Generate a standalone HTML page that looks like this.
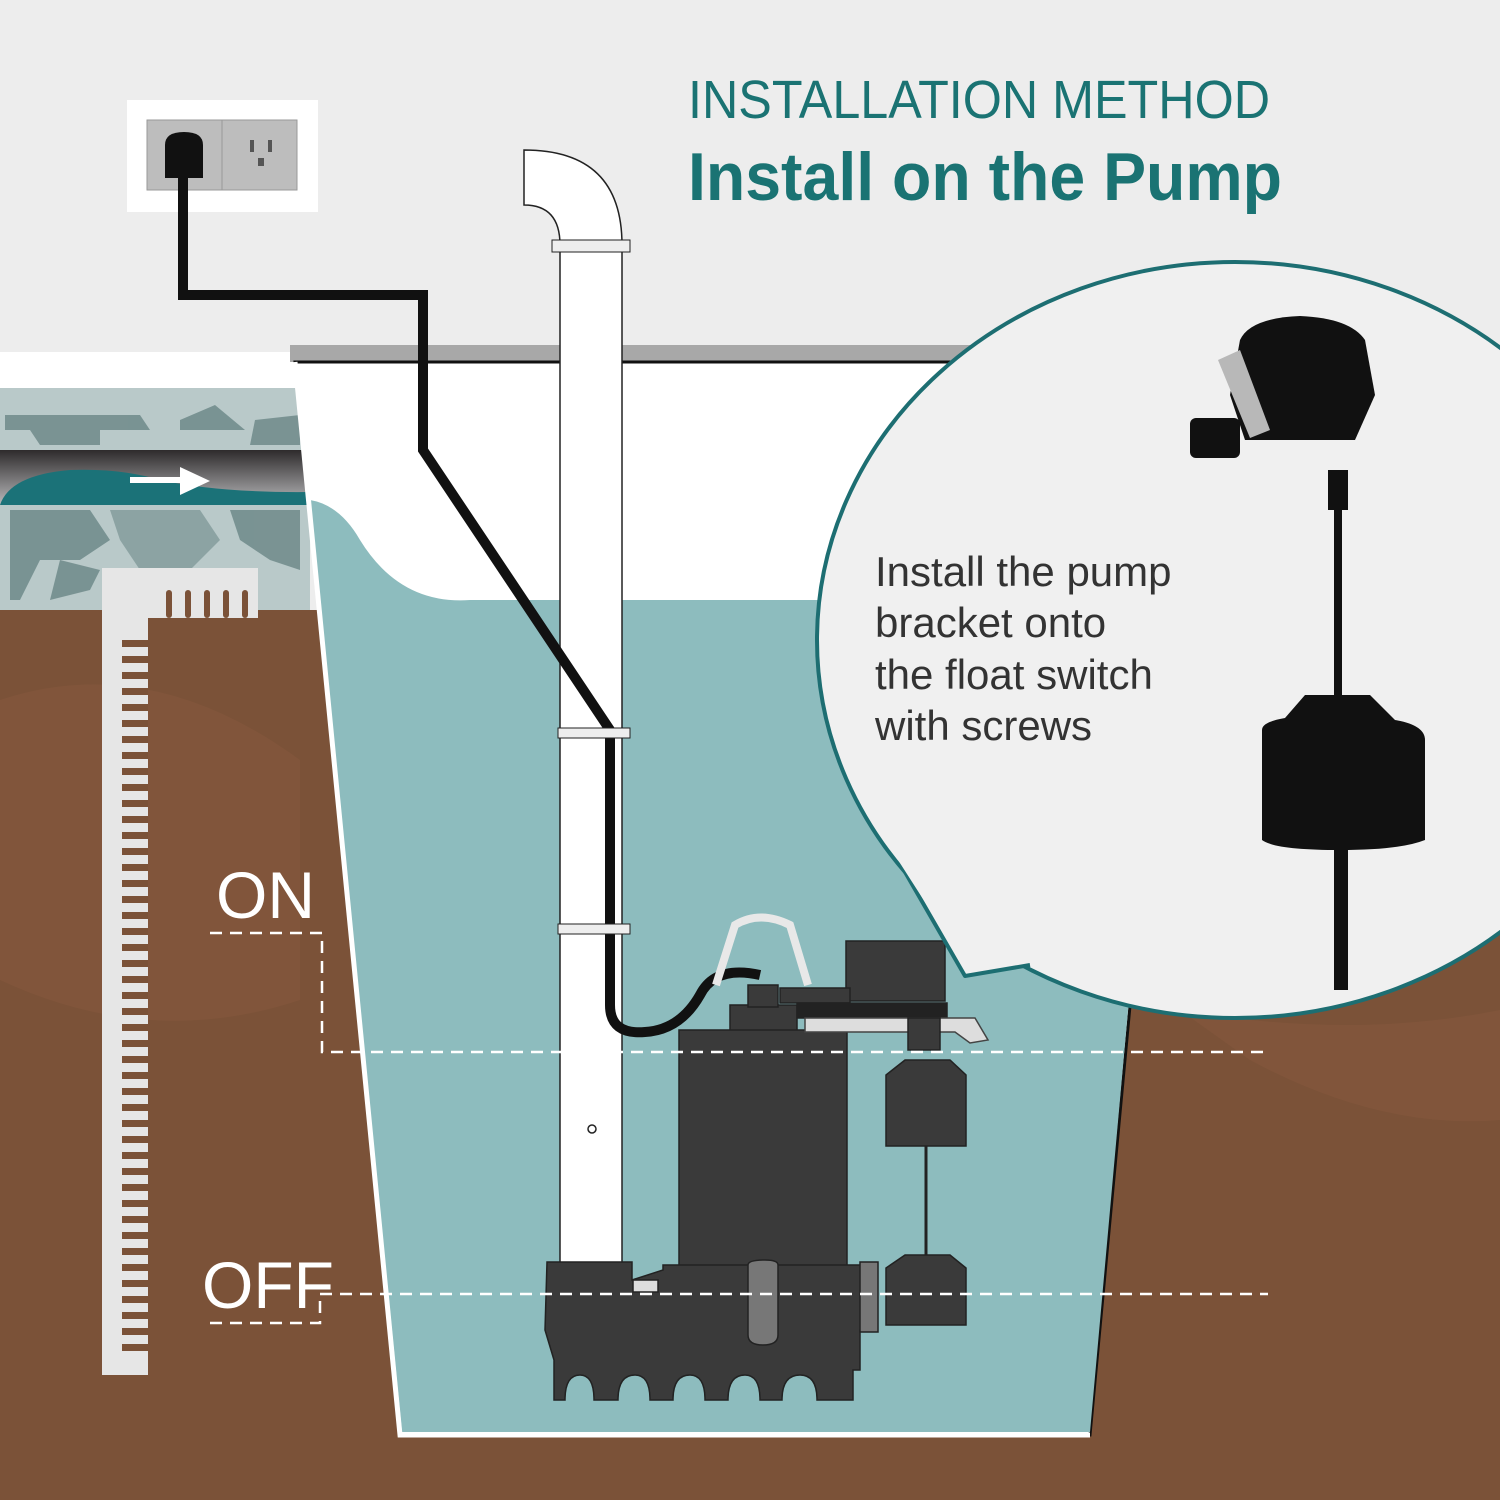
<!DOCTYPE html>
<html><head><meta charset="utf-8"><style>
html,body{margin:0;padding:0;background:#ededed}
svg{display:block}
text{font-family:"Liberation Sans",sans-serif}
</style></head><body>
<svg width="1500" height="1500" viewBox="0 0 1500 1500" xmlns="http://www.w3.org/2000/svg">
<defs>
<linearGradient id="pg" x1="0" y1="0" x2="0" y2="1">
<stop offset="0" stop-color="#2e2b2c"/><stop offset="1" stop-color="#b9b9bb"/>
</linearGradient>
</defs>
<rect width="1500" height="1500" fill="#ededed"/>
<rect x="0" y="610" width="1500" height="890" fill="#7b5238"/>
<path d="M0,700 Q150,650 300,760 L300,1000 Q150,1050 0,980Z" fill="#85593d" opacity="0.6"/>
<path d="M1180,1010 Q1350,1040 1500,1010 L1500,1120 Q1380,1130 1250,1060Z" fill="#85593d" opacity="0.6"/>
<rect x="0" y="352" width="300" height="36" fill="#ffffff"/>
<rect x="0" y="388" width="310" height="222" fill="#b9c9c9"/>
<g fill="#6f8a8a" opacity="0.85">
<path d="M5,415 H140 L150,430 H100 V445 H40 L30,430 H5Z"/>
<path d="M180,420 L215,405 L245,430 H180Z"/>
<path d="M255,420 L300,415 V445 H250Z"/>
<path d="M10,510 H90 L110,540 L80,560 H40 L20,600 H10Z"/>
<path d="M110,510 H200 L220,540 L190,570 H140 L120,540Z" opacity="0.7"/>
<path d="M230,510 H300 V570 L270,560 L240,540Z"/>
<path d="M60,560 L100,570 L90,590 L50,600Z"/>
</g>
<rect x="0" y="450" width="310" height="55" fill="url(#pg)"/>
<path d="M0,505 Q10,475 70,470 Q120,468 160,480 Q220,493 310,492 V505Z" fill="#1b7278"/>
<path d="M130,480 H185" stroke="#fff" stroke-width="6"/>
<path d="M180,467 L210,481 L180,495Z" fill="#fff"/>
<rect x="102" y="568" width="46" height="807" fill="#e6e6e6"/>
<rect x="148" y="568" width="110" height="50" fill="#e6e6e6"/>
<g fill="#7b5238">
<rect x="166" y="590" width="6" height="28" rx="3"/><rect x="185" y="590" width="6" height="28" rx="3"/><rect x="204" y="590" width="6" height="28" rx="3"/><rect x="223" y="590" width="6" height="28" rx="3"/><rect x="242" y="590" width="6" height="28" rx="3"/>
</g>
<rect x="290" y="345" width="720" height="17" fill="#a8a8a8"/>
<path d="M295,362 L1190,362 L1090,1435 L400,1435Z" fill="#ffffff" stroke="#111" stroke-width="3"/>
<path d="M310,500 Q340,505 360,540 Q400,605 470,600 L1165,600 L1090,1432 L402,1432Z" fill="#8dbcbe"/>
<path d="M295,362 L400,1435 L1090,1435" stroke="#fff" stroke-width="5" fill="none"/>
<rect x="127" y="100" width="191" height="112" fill="#fff"/>
<rect x="147" y="120" width="150" height="70" fill="#bdbdbd" stroke="#999"/>
<line x1="222" y1="120" x2="222" y2="190" stroke="#999"/>
<rect x="250" y="140" width="4" height="12" fill="#555"/><rect x="268" y="140" width="4" height="12" fill="#555"/><rect x="258" y="158" width="6" height="8" fill="#555"/>
<path d="M165,145 Q165,132 184,132 Q203,132 203,145 V178 H165Z" fill="#111"/>
<!-- pipe -->
<path d="M524,150 Q622,150 622,245 L560,245 Q560,205 524,205Z" fill="#fff" stroke="#222" stroke-width="1.5"/>
<rect x="560" y="245" width="62" height="1018" fill="#fff" stroke="#222" stroke-width="1.5"/>
<rect x="552" y="240" width="78" height="12" fill="#eee" stroke="#222"/>
<circle cx="592" cy="1129" r="4" fill="none" stroke="#222" stroke-width="1.5"/>
<!-- cord -->
<path d="M183,160 V295 H423 V450 L610,730 V1005 Q610,1035 645,1032 Q680,1030 700,995 Q715,965 760,975" fill="none" stroke="#111" stroke-width="10"/>
<rect x="558" y="728" width="72" height="10" fill="#eee" stroke="#222"/>
<rect x="558" y="924" width="72" height="10" fill="#eee" stroke="#222"/>
<!-- pump -->
<g fill="#3a3a3a" stroke="#222" stroke-width="1.5">
<path d="M716,985 L735,925 Q760,910 790,925 L808,985" fill="none" stroke="#e8e8e8" stroke-width="8"/>
<rect x="730" y="1005" width="67" height="27"/>
<rect x="748" y="985" width="30" height="22"/>
<rect x="679" y="1030" width="168" height="236"/>
<rect x="846" y="941" width="99" height="60"/>
<rect x="780" y="988" width="70" height="15"/>
<rect x="797" y="1003" width="150" height="15" fill="#222"/>
<path d="M805,1018 H975 L988,1040 L970,1043 L955,1032 H805Z" fill="#ddd" stroke="#444"/>
<rect x="908" y="1018" width="32" height="32"/>
<path d="M886,1075 L905,1060 H950 L966,1075 V1146 H886Z"/>
<line x1="926" y1="1146" x2="926" y2="1255" stroke="#222" stroke-width="3"/>
<path d="M886,1268 L905,1255 H950 L966,1268 V1325 H886Z"/>
<path d="M547,1262 H632 V1280 L663,1270 V1265 H875 V1330 L860,1330 V1370 H853 V1400 H817 Q817,1375 800,1375 Q782,1375 782,1400 H760 Q760,1375 745,1375 Q728,1375 728,1400 H705 Q705,1375 690,1375 Q673,1375 673,1400 H650 Q650,1375 635,1375 Q618,1375 618,1400 H594 Q594,1375 580,1375 Q565,1375 565,1400 H554 V1360 L545,1330Z"/>
<path d="M748,1265 Q748,1260 765,1260 Q778,1260 778,1265 V1335 Q778,1345 763,1345 Q748,1345 748,1335Z" fill="#777"/>
<rect x="860" y="1262" width="18" height="70" fill="#777"/>
<rect x="633" y="1280" width="25" height="12" fill="#ddd"/>
</g>
<g stroke="#fff" stroke-width="2.5" stroke-dasharray="12,8" fill="none">
<path d="M210,933 H322 V1052 H1268"/>
<path d="M320,1294 H1268"/>
<path d="M210,1323 H320 V1294"/>
</g>
<text x="216" y="918" font-size="66" fill="#fff">ON</text>
<text x="202" y="1308" font-size="66" fill="#fff">OFF</text>
<!-- bubble -->
<ellipse cx="1235" cy="640" rx="418" ry="378" fill="#f0f0f0" stroke="#1d6e72" stroke-width="4"/>
<path d="M905,872 L965,976 L1030,965" fill="#f0f0f0" stroke="#1d6e72" stroke-width="4" stroke-linejoin="round"/>
<path d="M898,860 L966,966 L1040,958 L1040,930 Z" fill="#f0f0f0"/>
<g fill="#111">
<path d="M1240,340 Q1250,318 1300,316 Q1350,318 1365,340 L1375,395 L1355,440 H1245 L1230,395Z"/>
<path d="M1218,360 L1240,350 L1270,430 L1250,438Z" fill="#b8b8b8"/>
<rect x="1190" y="418" width="50" height="40" rx="6"/>
<rect x="1328" y="470" width="20" height="40"/>
<rect x="1334" y="505" width="8" height="190"/>
<path d="M1305,695 H1370 L1395,720 Q1425,725 1425,740 V840 Q1400,850 1340,850 Q1275,850 1262,840 V730 Q1262,722 1285,718Z"/>
<rect x="1334" y="845" width="14" height="145"/>
</g>
<text font-size="42" fill="#333"><tspan x="875" y="586">Install the pump</tspan><tspan x="875" y="637">bracket onto</tspan><tspan x="875" y="689">the float switch</tspan><tspan x="875" y="740">with screws</tspan></text>
<text x="688" y="118" font-size="54" fill="#1a7373" textLength="582" lengthAdjust="spacingAndGlyphs">INSTALLATION METHOD</text>
<text x="688" y="200" font-size="68" font-weight="bold" fill="#1a7373" textLength="594" lengthAdjust="spacingAndGlyphs">Install on the Pump</text>
<g fill="#7b5238">
<rect x="122" y="640" width="26" height="7"/><rect x="122" y="656" width="26" height="7"/><rect x="122" y="672" width="26" height="7"/><rect x="122" y="688" width="26" height="7"/><rect x="122" y="704" width="26" height="7"/><rect x="122" y="720" width="26" height="7"/><rect x="122" y="736" width="26" height="7"/><rect x="122" y="752" width="26" height="7"/><rect x="122" y="768" width="26" height="7"/><rect x="122" y="784" width="26" height="7"/><rect x="122" y="800" width="26" height="7"/><rect x="122" y="816" width="26" height="7"/><rect x="122" y="832" width="26" height="7"/><rect x="122" y="848" width="26" height="7"/><rect x="122" y="864" width="26" height="7"/><rect x="122" y="880" width="26" height="7"/><rect x="122" y="896" width="26" height="7"/><rect x="122" y="912" width="26" height="7"/><rect x="122" y="928" width="26" height="7"/><rect x="122" y="944" width="26" height="7"/><rect x="122" y="960" width="26" height="7"/><rect x="122" y="976" width="26" height="7"/><rect x="122" y="992" width="26" height="7"/><rect x="122" y="1008" width="26" height="7"/><rect x="122" y="1024" width="26" height="7"/><rect x="122" y="1040" width="26" height="7"/><rect x="122" y="1056" width="26" height="7"/><rect x="122" y="1072" width="26" height="7"/><rect x="122" y="1088" width="26" height="7"/><rect x="122" y="1104" width="26" height="7"/><rect x="122" y="1120" width="26" height="7"/><rect x="122" y="1136" width="26" height="7"/><rect x="122" y="1152" width="26" height="7"/><rect x="122" y="1168" width="26" height="7"/><rect x="122" y="1184" width="26" height="7"/><rect x="122" y="1200" width="26" height="7"/><rect x="122" y="1216" width="26" height="7"/><rect x="122" y="1232" width="26" height="7"/><rect x="122" y="1248" width="26" height="7"/><rect x="122" y="1264" width="26" height="7"/><rect x="122" y="1280" width="26" height="7"/><rect x="122" y="1296" width="26" height="7"/><rect x="122" y="1312" width="26" height="7"/><rect x="122" y="1328" width="26" height="7"/><rect x="122" y="1344" width="26" height="7"/>
</g>
</svg>
</body></html>
